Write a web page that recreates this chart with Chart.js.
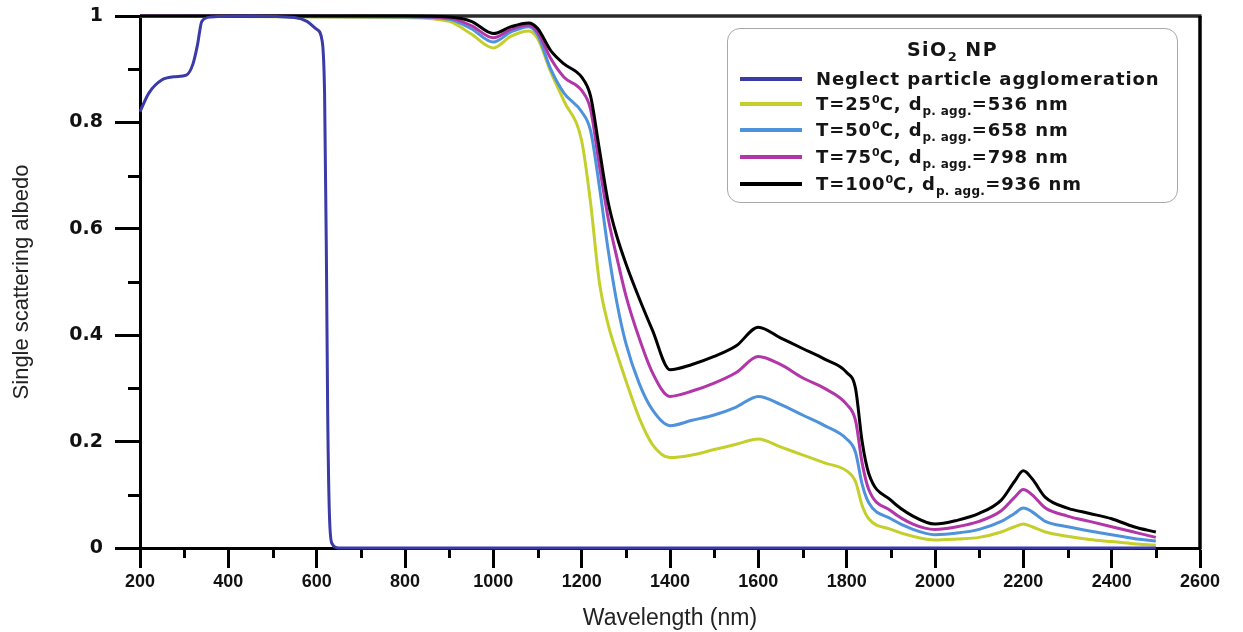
<!DOCTYPE html>
<html>
<head>
<meta charset="utf-8">
<script src="https://cdn.jsdelivr.net/npm/chart.js@4.4.1/dist/chart.umd.min.js"></script>
<style>
html,body{margin:0;padding:0;background:#fff;}
#wrap{position:relative;width:1243px;height:632px;overflow:hidden;}
#chart{position:absolute;left:0;top:0;}
#legend{position:absolute;left:727px;top:28px;width:451px;height:175px;border:1.5px solid #a8a8a8;border-radius:13px;background:#fff;box-sizing:border-box;font-family:'DejaVu Sans',sans-serif;font-weight:bold;color:#151515;}
#legend .ttl{position:absolute;left:0;width:100%;top:8px;text-align:center;font-size:19px;letter-spacing:1.5px;line-height:24px;}
#legend .row{position:absolute;left:12px;height:26px;display:flex;align-items:center;white-space:nowrap;}
#legend .sw{width:62px;height:3.5px;margin-right:14px;flex:none;}
#legend .txt{font-size:18px;letter-spacing:0.9px;line-height:26px;}
#legend sub{font-size:12px;vertical-align:-5px;line-height:0;letter-spacing:0.3px;}
#legend sup{font-size:11px;vertical-align:7px;line-height:0;letter-spacing:0;}
#legend .ttl sub{font-size:13px;vertical-align:-5px;}
</style>
</head>
<body>
<div id="wrap">
  <canvas id="chart" width="1243" height="632"></canvas>
  <div id="legend"></div>
</div>
<script>
// ---------- DATA ----------
const legendTitle = 'SiO<sub>2</sub> NP';

const wavelengthsNeglect = [200, 220, 250, 280, 305, 320, 330, 340, 360, 450, 550, 578, 600, 612, 618, 622, 625, 629, 635, 650, 1000, 1500, 2000, 2500];
const albedoNeglect      = [0.82, 0.855, 0.88, 0.886, 0.889, 0.91, 0.945, 0.99, 0.998, 1.0, 0.997, 0.99, 0.975, 0.955, 0.85, 0.55, 0.25, 0.06, 0.008, 0, 0, 0, 0, 0];

const wavelengthsAgg = [200, 800, 900, 950, 1000, 1040, 1080, 1100, 1130, 1160, 1200, 1220, 1240, 1260, 1280, 1300, 1330, 1360, 1400, 1450, 1500, 1550, 1600, 1650, 1700, 1750, 1800, 1820, 1835, 1850, 1900, 1950, 2000, 2050, 2100, 2150, 2180, 2200, 2220, 2250, 2300, 2350, 2400, 2450, 2500];

const albedoT25  = [1.0, 0.997, 0.99, 0.966, 0.94, 0.962, 0.972, 0.958, 0.895, 0.84, 0.765, 0.65, 0.5, 0.42, 0.365, 0.315, 0.245, 0.195, 0.17, 0.175, 0.185, 0.195, 0.205, 0.19, 0.175, 0.16, 0.145, 0.125, 0.08, 0.055, 0.035, 0.022, 0.015, 0.017, 0.02, 0.03, 0.04, 0.045, 0.04, 0.03, 0.022, 0.016, 0.012, 0.008, 0.005];
const albedoT50  = [1.0, 0.998, 0.994, 0.976, 0.951, 0.97, 0.98, 0.965, 0.90, 0.855, 0.82, 0.785, 0.68, 0.56, 0.46, 0.385, 0.31, 0.26, 0.23, 0.24, 0.25, 0.265, 0.285, 0.27, 0.25, 0.23, 0.205, 0.18, 0.12, 0.085, 0.055, 0.035, 0.025, 0.028, 0.035, 0.05, 0.065, 0.075, 0.068, 0.05, 0.04, 0.032, 0.025, 0.018, 0.013];
const albedoT75  = [1.0, 0.999, 0.996, 0.982, 0.959, 0.975, 0.983, 0.97, 0.92, 0.885, 0.86, 0.825, 0.72, 0.62, 0.545, 0.475, 0.395, 0.33, 0.285, 0.295, 0.31, 0.33, 0.36, 0.345, 0.32, 0.30, 0.27, 0.24, 0.16, 0.11, 0.07, 0.045, 0.035, 0.04, 0.05, 0.07, 0.095, 0.11, 0.10, 0.075, 0.06, 0.05, 0.04, 0.03, 0.02];
const albedoT100 = [1.0, 1.0, 0.998, 0.99, 0.967, 0.98, 0.987, 0.977, 0.935, 0.91, 0.885, 0.85, 0.75, 0.65, 0.585, 0.535, 0.47, 0.41, 0.335, 0.345, 0.36, 0.38, 0.415, 0.395, 0.375, 0.355, 0.33, 0.30, 0.20, 0.14, 0.09, 0.06, 0.045, 0.052, 0.065, 0.09, 0.125, 0.145, 0.13, 0.095, 0.075, 0.065, 0.055, 0.04, 0.03];

const temperatures = [25, 50, 75, 100];
const aggDiameters = [536, 658, 798, 936];

const xTickValues = [200, 400, 600, 800, 1000, 1200, 1400, 1600, 1800, 2000, 2200, 2400, 2600];
const xMinorTicks = [300, 500, 700, 900, 1100, 1300, 1500, 1700, 1900, 2100, 2300, 2500];
const yTickValues = [0, 0.2, 0.4, 0.6, 0.8, 1];
const yMinorTicks = [0.1, 0.3, 0.5, 0.7, 0.9];

// ---------- STYLES ----------
const seriesColors = ['#3a3aa8', '#c4cf2c', '#4f92dc', '#b236a8', '#000000'];
const drawOrder = [0, 4, 3, 2, 1];

// ---------- BUILD ----------
const toPoints = (xs, ys) => xs.map((x, i) => ({x: x, y: ys[i]}));
const aggSeries = [albedoT25, albedoT50, albedoT75, albedoT100];

const labelsHtml = ['Neglect particle agglomeration'].concat(
  temperatures.map((t, i) => 'T=' + t + '<sup>0</sup>C, d<sub>p. agg.</sub>=' + aggDiameters[i] + ' nm'));
const labelsPlain = ['Neglect particle agglomeration'].concat(
  temperatures.map((t, i) => 'T=' + t + '0C, dp. agg.=' + aggDiameters[i] + ' nm'));

const datasets = [toPoints(wavelengthsNeglect, albedoNeglect)]
  .concat(aggSeries.map(s => toPoints(wavelengthsAgg, s)))
  .map((pts, i) => ({
    label: labelsPlain[i],
    data: pts,
    borderColor: seriesColors[i],
    backgroundColor: seriesColors[i],
    borderWidth: 3,
    pointRadius: 0,
    fill: false,
    cubicInterpolationMode: 'monotone',
    clip: false,
    order: drawOrder[i]
  }));

// HTML legend (needs sub/superscripts)
const legendEl = document.getElementById('legend');
let lh = '<div class="ttl">' + legendTitle + '</div>';
const rowTops = [37, 62, 88, 115, 142];
labelsHtml.forEach((t, i) => {
  lh += '<div class="row" style="top:' + rowTops[i] + 'px"><span class="sw" style="background:' + seriesColors[i] + '"></span><span class="txt">' + t + '</span></div>';
});
legendEl.innerHTML = lh;

const frameMinor = {
  id: 'frameMinor',
  beforeDatasetsDraw(chart) {
    const {ctx, chartArea: a, scales: {x, y}} = chart;
    ctx.save();
    ctx.strokeStyle = '#2a2a2a';
    ctx.lineWidth = 3.5;
    ctx.beginPath();
    ctx.moveTo(a.left, a.top);
    ctx.lineTo(a.right + 1.5, a.top);
    ctx.stroke();
    ctx.strokeStyle = '#000';
    ctx.lineWidth = 3.5;
    ctx.beginPath();
    ctx.moveTo(a.right, a.top);
    ctx.lineTo(a.right, a.bottom + 1.5);
    ctx.stroke();
    ctx.lineWidth = 3;
    ctx.beginPath();
    xMinorTicks.forEach(v => {
      const px = Math.round(x.getPixelForValue(v)) + 0.5;
      ctx.moveTo(px, a.bottom);
      ctx.lineTo(px, a.bottom + 10);
    });
    yMinorTicks.forEach(v => {
      const py = Math.round(y.getPixelForValue(v)) + 0.5;
      ctx.moveTo(a.left, py);
      ctx.lineTo(a.left - 12, py);
    });
    ctx.stroke();
    ctx.restore();
  }
};

new Chart(document.getElementById('chart'), {
  type: 'line',
  data: {datasets: datasets},
  options: {
    responsive: false,
    animation: false,
    devicePixelRatio: 1,
    layout: {padding: {top: 16, right: 43, left: 0, bottom: 0}},
    plugins: {legend: {display: false}, tooltip: {enabled: false}},
    scales: {
      x: {
        type: 'linear',
        min: 200, max: 2600,
        afterBuildTicks: s => { s.ticks = xTickValues.map(v => ({value: v})); },
        afterFit: s => { s.height = 84; s.paddingLeft = 0; s.paddingRight = 0; },
        ticks: {
          autoSkip: false, maxRotation: 0, padding: 3, color: '#111',
          callback: v => String(v),
          font: {family: "'Liberation Sans Narrow', 'Liberation Sans', sans-serif", size: 18, weight: 'bold'}
        },
        grid: {drawOnChartArea: false, drawTicks: true, tickLength: 20, tickWidth: 3, tickColor: '#000'},
        border: {display: true, color: '#000', width: 3},
        title: {display: true, text: 'Wavelength (nm)', color: '#222', padding: {top: 0, bottom: 0},
                font: {family: "'Liberation Sans', sans-serif", size: 23}}
      },
      y: {
        type: 'linear',
        min: 0, max: 1,
        afterBuildTicks: s => { s.ticks = yTickValues.map(v => ({value: v})); },
        afterFit: s => { s.width = 140; s.paddingTop = 0; s.paddingBottom = 0; },
        ticks: {
          padding: 12, color: '#111',
          callback: v => String(v),
          font: {family: "'DejaVu Sans', sans-serif", size: 19, weight: 'bold'}
        },
        grid: {drawOnChartArea: false, drawTicks: true, tickLength: 25, tickWidth: 3, tickColor: '#000'},
        border: {display: true, color: '#000', width: 3},
        title: {display: true, text: 'Single scattering albedo', color: '#222', padding: {top: 9, bottom: 0},
                font: {family: "'Liberation Sans Narrow', 'Liberation Sans', sans-serif", size: 22}}
      }
    }
  },
  plugins: [frameMinor]
});
</script>
</body>
</html>
